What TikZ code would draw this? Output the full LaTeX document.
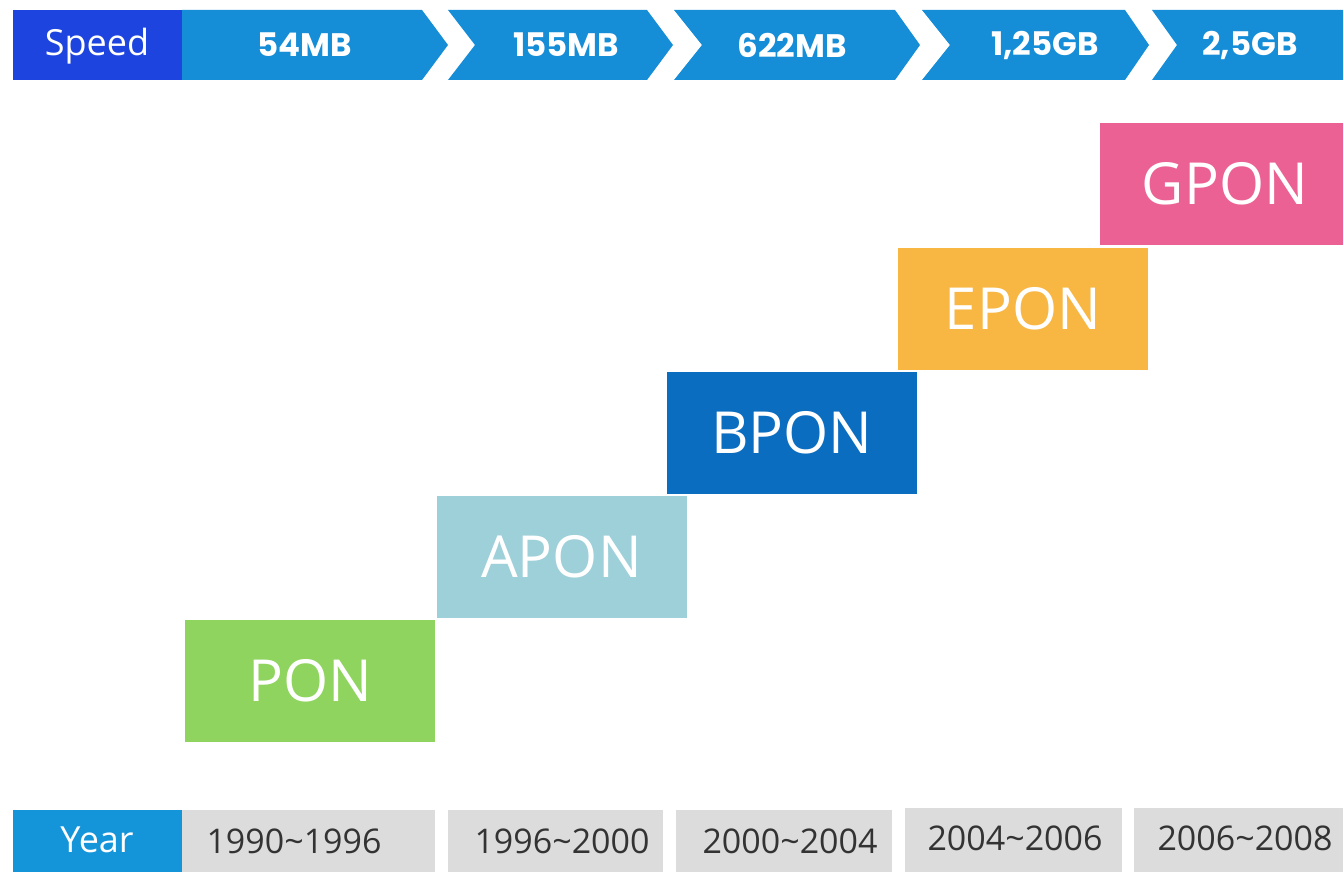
\documentclass[tikz,border=0pt]{standalone}
\usepackage{fontspec}
\setmainfont{Open Sans}
\newfontfamily\spdfont{Poppins}
\usetikzlibrary{calc}
\definecolor{speedblue}{HTML}{1E44DF}
\definecolor{arrowblue}{HTML}{168DD7}
\definecolor{yearblue}{HTML}{1494D9}
\definecolor{yeargrey}{HTML}{DCDCDC}
\definecolor{ponGreen}{HTML}{8FD45E}
\definecolor{aponBlue}{HTML}{9DD0D9}
\definecolor{bponBlue}{HTML}{0B6DC0}
\definecolor{eponOrange}{HTML}{F8B743}
\definecolor{gponPink}{HTML}{EB6194}
\tikzset{
	gen/.style={minimum width=250pt, minimum height=122pt, inner sep=0pt, text=white, font=\fontsize{58}{58}\selectfont},
	spd/.style={text=white, font=\spdfont\bfseries\fontsize{32.5}{32.5}\selectfont},
	yr/.style={text=black!80, font=\fontsize{34}{34}\selectfont},
	hdr/.style={text=white, font=\fontsize{36}{36}\selectfont}
}

\begin{document}
\begin{tikzpicture}[x=1pt, y=-1pt]
			%%%%% START %%%%%
			\useasboundingbox[fill=white] (0, 0) rectangle (1343, 872);
			
			% speed bar
			\fill[speedblue] (13, 10) rectangle (182, 80);
			\node[hdr] (speed) at (97, 46) {Speed};
			
			\fill[arrowblue] (182, 10) -- (422, 10) -- (448, 45) -- (422, 80) -- (182, 80) -- cycle;
			\fill[arrowblue] (448, 10) -- (647, 10) -- (673, 45) -- (647, 80) -- (448, 80) -- (475, 45) -- cycle;
			\fill[arrowblue] (674, 10) -- (895, 10) -- (920, 45) -- (895, 80) -- (674, 80) -- (702, 45) -- cycle;
			\fill[arrowblue] (922, 10) -- (1125, 10) -- (1149, 45) -- (1125, 80) -- (922, 80) -- (950, 45) -- cycle;
			\fill[arrowblue] (1152, 10) -- (1343, 10) -- (1343, 80) -- (1152, 80) -- (1177, 45) -- cycle;
			
			\node[spd] (s1) at (305, 45) {54MB};
			\node[spd] (s2) at (566, 45) {155MB};
			\node[spd] (s3) at (792, 45) {622MB};
			\node[spd] (s4) at (1045, 45) {1,25GB};
			\node[spd] (s5) at (1250, 45) {2,5GB};
			
			% steps
			\node[gen, fill=ponGreen] (pon) at (310, 681) {PON};
			\node[gen, fill=aponBlue] (apon) at (561.5, 557) {APON};
			\node[gen, fill=bponBlue] (bpon) at (792, 433) {BPON};
			\node[gen, fill=eponOrange] (epon) at (1023, 309) {EPON};
			\node[gen, fill=gponPink] (gpon) at (1225, 184) {GPON};
			
			% year bar
			\fill[yearblue] (13, 810) rectangle (182, 872);
			\node[hdr] (year) at (97, 840) {Year};
			
			\fill[yeargrey] (182, 810) rectangle (435, 872);
			\fill[yeargrey] (448, 810) rectangle (663, 872);
			\fill[yeargrey] (676, 810) rectangle (892, 872);
			\fill[yeargrey] (905, 808) rectangle (1122, 872);
			\fill[yeargrey] (1134, 808) rectangle (1343, 872);
			
			\node[yr] (y1) at (294, 841) {1990\textasciitilde1996};
			\node[yr] (y2) at (562, 841) {1996\textasciitilde2000};
			\node[yr] (y3) at (790, 841) {2000\textasciitilde2004};
			\node[yr] (y4) at (1015, 838) {2004\textasciitilde2006};
			\node[yr] (y5) at (1245, 838) {2006\textasciitilde2008};
			%%%%% END %%%%%
		\end{tikzpicture}
\end{document}
